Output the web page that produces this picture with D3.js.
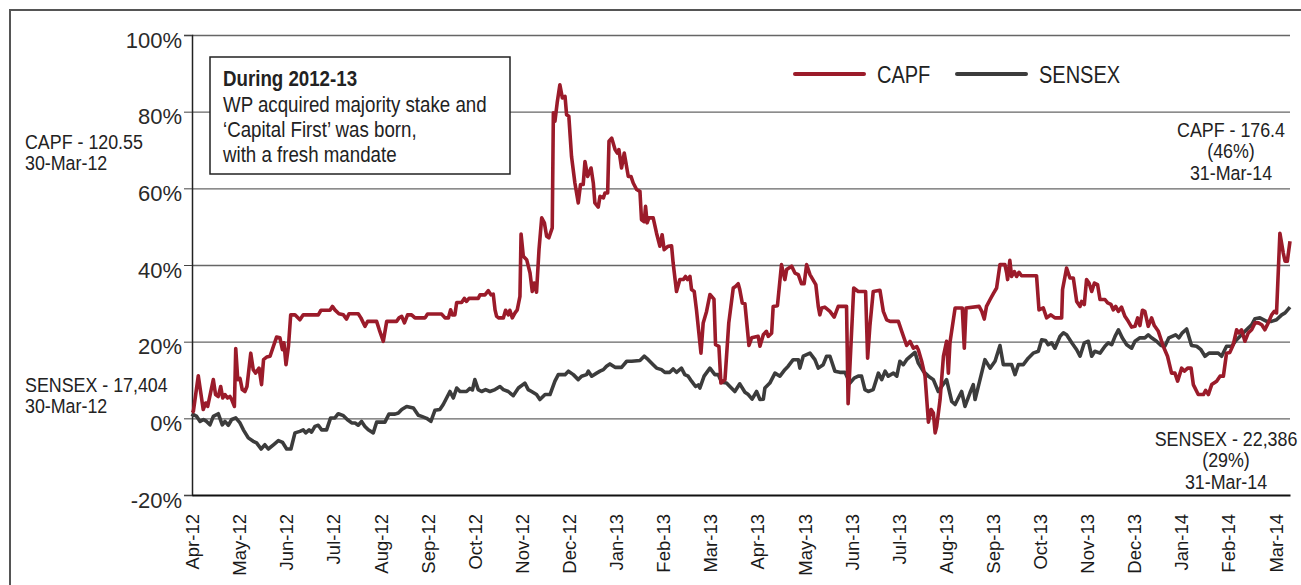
<!DOCTYPE html>
<html>
<head>
<meta charset="utf-8">
<script src="https://cdn.jsdelivr.net/npm/d3@7"></script>
<style>
  body { margin: 0; background: #fff; }
  svg { display: block; }
  .cond { font-family: "Liberation Sans", Arial, sans-serif; }
</style>
</head>
<body>
<script>
// month labels, one every 21 trading days from 30-Mar-12
var months = ["Apr-12","May-12","Jun-12","Jul-12","Aug-12","Sep-12","Oct-12","Nov-12","Dec-12","Jan-13","Feb-13","Mar-13",
	"Apr-13","May-13","Jun-13","Jul-13","Aug-13","Sep-13","Oct-13","Nov-13","Dec-13","Jan-14","Feb-14","Mar-14"];
var yTicks = [-20, 0, 20, 40, 60, 80, 100];

// [trading day, % change since 30-Mar-12]
var capf = [[0,1.5],[0.6,1.8],[2.8,11.1],[5.0,2.3],[6.1,4.0],[7.0,3.1],[9.5,10.1],[10.5,6.2],[11.7,5.7],[12.8,8.3],[13.7,5.3],[14.7,6.2],[15.8,5.3],[16.9,5.7],[17.7,4.9],[18.9,3.1],[19.5,18.2],[20.4,10.1],[21.4,10.4],[22.4,7.5],[23.6,7.0],[24.5,8.3],[26.2,17.0],[27.3,12.7],[28.4,11.8],[29.9,13.1],[31.0,8.8],[31.9,15.3],[33.3,16.0],[34.8,16.2],[36.3,18.8],[37.7,21.2],[39.2,21.0],[40.3,17.9],[41.0,19.7],[41.9,14.0],[43.0,18.8],[44.0,27.0],[45.9,27.0],[48.1,25.7],[49.6,27.0],[56.3,27.0],[57.5,28.2],[61.5,28.2],[62.6,29.2],[63.7,28.3],[65.5,27.3],[67.5,27.0],[68.9,25.9],[70.0,27.3],[74.1,27.3],[75.3,26.2],[77.1,24.0],[78.3,25.3],[82.3,25.3],[83.5,23.1],[85.3,20.1],[86.8,25.3],[91.2,25.3],[92.3,26.2],[93.5,26.6],[94.7,24.9],[96.1,27.0],[97.9,27.0],[99.4,26.2],
	[103.9,26.2],[105.0,27.2],[111.3,27.2],[112.8,26.2],[114.3,26.2],[115.3,28.3],[116.0,27.0],[117.2,27.0],[118.0,30.2],[120.2,30.2],[121.4,31.3],[122.4,30.5],[123.5,31.3],[127.6,31.3],[128.4,32.2],[130.6,32.2],[132.1,33.3],[133.3,32.2],[134.3,32.4],[135.1,28.3],[135.8,26.6],[136.8,26.2],[138.8,26.2],[139.8,28.2],[141.0,27.0],[141.7,28.2],[142.8,26.2],[144.0,27.5],[145.0,28.3],[146.2,31.8],[146.7,48.1],[147.7,42.3],[149.2,41.4],[150.7,37.9],[151.7,33.1],[152.6,35.3],[153.6,32.9],[154.7,44.0],[155.9,52.3],[157.1,51.0],[158.1,47.5],[159.1,47.1],[160.6,49.7],[161.1,79.7],[161.8,77.5],[162.8,82.3],[164.0,87.0],[165.1,83.6],[166.3,84.0],[167.0,79.2],[168.0,78.8],[169.2,68.3],[170.7,61.4],[172.2,56.2],[173.2,61.0],[174.4,61.0],[175.2,67.0],[176.4,63.1],[177.9,65.3],[178.9,61.4],[179.6,56.2],[181.1,55.1],[181.9,57.9],[183.4,57.5],[184.1,58.8],[185.3,58.8],[185.9,72.3],[187.1,73.1],[188.6,70.1],[189.6,69.2],[190.3,70.1],[191.5,65.3],[192.7,69.2],[194.5,63.1],[195.7,63.1],[196.7,61.4],[198.2,59.7],[199.7,59.2],[200.4,51.8],[201.6,51.3],
	[202.2,55.3],[202.9,51.0],[203.7,52.3],[205.6,52.3],[207.1,48.3],[208.6,44.9],[209.6,47.9],[210.5,44.0],[212.3,44.9],[213.8,45.0],[214.5,40.5],[216.0,33.1],[217.5,36.2],[219.0,36.2],[220.0,37.0],[220.9,36.2],[222.0,37.0],[222.7,33.6],[223.9,33.1],[224.9,28.3],[226.9,17.0],[227.9,24.9],[229.4,27.9],[230.9,32.3],[232.7,31.1],[233.4,19.2],[234.9,18.8],[235.8,9.2],[237.6,10.1],[239.3,24.9],[241.3,34.0],[242.3,34.4],[243.5,35.1],[244.2,33.6],[245.3,30.1],[246.5,29.9],[248.3,19.0],[249.5,21.0],[252.4,21.4],[253.2,18.8],[254.7,21.8],[256.1,22.7],[256.9,21.4],[258.4,22.2],[259.1,29.2],[261.0,29.4],[262.8,40.1],[264.3,36.2],[265.1,38.8],[267.3,39.7],[268.8,37.9],[270.3,37.5],[271.7,35.1],[272.9,35.1],[274.0,40.1],[275.5,37.5],[278.1,34.9],[279.2,29.2],[279.9,27.0],[280.7,28.8],[282.1,29.0],[284.4,27.9],[286.3,26.4],[288.1,29.2],[291.8,29.2],[292.5,3.8],[295.0,34.0],[297.0,33.1],[300.3,33.1],[301.2,15.7],[302.2,24.0],[303.7,33.1],[306.7,33.4],
	[308.2,27.9],[309.7,25.7],[311.2,25.3],[314.9,25.3],[316.4,22.7],[318.6,19.0],[320.1,20.1],[321.6,18.3],[323.1,18.7],[323.8,17.9],[325.3,14.9],[326.8,11.0],[328.3,-1.0],[329.5,2.3],[330.5,1.4],[331.3,-3.8],[332.0,-2.1],[333.5,4.9],[335.0,16.2],[336.4,20.1],[337.2,11.8],[337.9,19.7],[340.2,28.8],[343.4,28.8],[344.3,18.3],[345.1,28.8],[350.9,29.2],[352.1,27.9],[353.2,25.9],[354.2,29.2],[355.8,31.0],[357.3,32.6],[358.7,34.0],[360.2,40.1],[362.4,40.1],[363.2,37.9],[363.6,36.2],[364.6,41.2],[365.4,37.0],[366.6,38.3],[367.6,37.0],[368.7,38.1],[369.8,37.2],[376.5,37.2],[377.6,28.3],[379.5,28.8],[381.0,26.2],[382.9,27.0],[384.7,26.2],[387.7,26.2],[388.1,33.6],[389.9,39.2],[391.4,36.6],[392.9,36.6],[394.4,30.5],[395.9,29.2],[396.6,30.5],[397.8,29.7],
	[398.8,36.2],[399.9,35.3],[401.1,33.1],[402.3,35.3],[403.7,34.9],[404.8,31.0],[407.0,31.0],[408.2,30.1],[409.7,29.7],[410.7,28.3],[411.8,29.2],[413.0,27.9],[414.4,29.0],[415.9,26.6],[417.4,25.3],[418.9,23.8],[420.4,24.0],[421.6,26.2],[422.6,24.2],[423.7,28.2],[424.8,27.9],[426.3,24.0],[427.8,26.2],[429.0,24.2],[430.8,22.7],[433.0,18.8],[434.9,16.2],[436.7,11.8],[438.2,11.8],[439.4,9.7],[441.2,13.1],[442.4,12.3],[443.9,13.1],[445.4,13.1],[446.4,8.8],[448.6,6.2],[450.9,6.2],[451.9,7.3],[453.1,6.2],[454.6,8.8],[456.8,9.7],[458.3,11.0],[459.8,11.0],[461.2,17.0],[462.7,17.2],[464.2,19.2],[465.7,23.1],[466.7,22.3],[467.9,23.1],[469.4,20.1],[470.9,22.3],[472.4,23.1],[473.9,24.9],[475.4,24.9],[476.9,24.4],[478.3,23.1],[479.8,24.9],[481.3,27.0],[482.5,27.9],[483.5,27.5],[485.0,48.3],[486.5,43.1],[487.3,41.0],[488.3,41.0],[489.5,46.2]];

var sensex = [[0,0.5],[0.6,1.0],[2.1,0.5],[3.6,-0.8],[5.1,-0.3],[6.5,-0.8],[8.0,-1.7],[9.5,0.5],[11.7,1.2],[13.5,-1.7],[14.7,-0.8],[16.2,-1.8],[17.7,-0.3],[19.5,0.1],[21.4,-1.2],[22.9,-3.0],[25.1,-5.1],[27.3,-6.0],[28.8,-6.4],[30.8,-8.0],[32.5,-6.9],[34.0,-8.0],[36.3,-6.9],[38.5,-5.8],[40.4,-6.3],[42.2,-8.0],[44.1,-8.0],[45.9,-3.8],[48.1,-3.4],[49.6,-3.0],[50.7,-3.8],[52.2,-3.0],[53.3,-3.6],[54.8,-2.1],[56.3,-1.8],[57.8,-3.0],[60.0,-3.0],[61.8,0.1],[63.7,0.1],[65.2,1.2],[67.5,0.7],[69.2,-0.3],[71.2,-1.2],[72.7,-1.2],[74.1,-1.8],[75.6,-0.8],[77.1,-2.1],[78.6,-3.0],[80.8,-3.8],[82.3,-1.0],[86.0,-1.0],[87.8,1.1],[90.5,1.1],[92.0,1.4],[93.5,2.3],[95.7,3.1],[98.7,2.7],[100.9,0.8],
	[102.4,0.5],[104.6,0.0],[106.5,-0.8],[108.3,2.1],[110.5,2.3],[112.0,3.6],[115.0,7.0],[116.5,5.3],[118.0,7.9],[119.5,7.0],[122.4,7.0],[123.9,7.8],[125.0,7.4],[126.1,10.1],[127.6,7.5],[129.1,7.0],[130.9,7.5],[132.8,7.0],[135.1,7.5],[137.3,8.3],[138.8,7.5],[141.0,7.0],[143.2,5.9],[145.5,7.9],[148.4,9.2],[149.9,7.5],[151.4,7.0],[153.6,6.2],[155.1,4.9],[157.4,6.2],[159.6,6.2],[161.8,9.7],[163.3,11.4],[166.3,11.4],[167.8,12.3],[170.0,11.4],[172.2,10.1],[173.7,11.0],[175.9,11.4],[176.7,12.3],[178.2,11.0],[180.4,11.8],[181.9,12.3],[183.4,12.7],[184.8,13.6],[186.3,14.2],[188.6,13.3],[191.5,13.3],[193.8,14.9],[196.0,14.9],[199.7,15.1],[201.6,16.2],
	[203.4,15.3],[205.6,14.0],[207.1,13.1],[209.3,12.7],[210.8,12.0],[213.0,12.0],[214.5,12.9],[216.0,12.0],[218.2,13.1],[219.7,11.4],[221.2,11.0],[222.7,9.7],[224.5,8.3],[225.7,8.7],[226.4,7.9],[228.3,11.0],[230.9,13.1],[233.1,11.4],[234.6,11.4],[236.1,9.4],[238.3,9.2],[239.8,8.3],[242.0,7.0],[244.2,9.0],[246.5,6.8],[248.0,6.2],[249.7,5.0],[251.7,7.0],[253.2,4.9],[254.7,5.0],[255.4,7.9],[257.6,9.2],[259.9,11.8],[262.1,11.0],[264.3,12.7],[265.8,13.6],[268.0,15.3],[270.3,15.3],[271.0,13.1],[272.5,16.2],[275.5,17.0],[277.7,15.3],[279.2,13.1],[281.4,14.0],[282.9,16.2],[284.4,16.2],[286.6,12.3],[288.8,12.0],[291.1,12.0],[293.3,9.2],[295.2,10.5],[297.0,11.0],[298.5,11.0],[300.0,7.5],[301.5,7.0],[303.7,7.5],
	[306.0,11.8],[307.5,10.1],[309.0,12.3],[310.4,11.0],[312.7,11.8],[314.2,11.0],[315.6,14.9],[317.1,14.0],[318.6,15.3],[320.1,16.1],[322.3,17.2],[323.8,14.4],[326.0,12.3],[328.3,11.0],[330.5,10.1],[332.7,7.0],[334.2,8.3],[336.4,10.1],[338.7,4.4],[340.2,3.6],[341.3,4.9],[343.1,7.0],[344.6,3.1],[346.8,6.6],[348.3,8.8],[349.1,4.9],[351.3,10.1],[353.5,15.3],[355.8,13.1],[358.0,14.9],[360.2,19.0],[361.7,14.0],[365.4,14.0],[366.9,11.4],[368.4,14.0],[370.6,14.0],[372.8,15.7],[375.0,17.0],[377.3,17.5],[378.8,20.5],[380.5,20.3],[381.7,19.2],[383.2,19.7],[384.7,18.3],[387.0,21.4],[388.5,22.3],[389.9,21.8],[392.2,19.7],[394.4,17.9],[395.9,16.2],[397.8,19.7],
	[399.6,20.1],[401.1,16.2],[402.5,17.5],[404.8,17.0],[407.0,18.8],[408.5,19.7],[410.0,19.2],[411.5,21.4],[413.0,23.1],[414.7,21.0],[416.7,19.2],[418.9,18.3],[420.4,20.1],[422.6,21.0],[424.8,21.0],[426.3,21.8],[427.8,21.0],[430.0,20.1],[432.0,19.0],[433.7,18.8],[435.5,21.0],[437.0,21.4],[438.5,21.8],[440.0,21.0],[441.5,22.3],[443.4,23.3],[445.6,19.0],[447.9,18.8],[449.8,17.9],[451.6,16.2],[453.4,17.0],[457.5,17.0],[459.0,16.2],[461.2,18.8],[463.5,18.8],[465.7,20.5],[467.9,21.8],[470.1,23.1],[472.4,24.4],[473.9,26.0],[476.1,26.2],[479.1,25.3],[481.3,25.3],[483.5,25.7],[485.8,27.0],[487.3,27.5],[489.5,29.0]];

var boxTitle = "During 2012-13";
var boxLines = ["WP acquired majority stake and", "\u2018Capital First\u2019 was born,", "with a fresh mandate"];
var capfStart = ["CAPF - 120.55", "30-Mar-12"];
var sensexStart = ["SENSEX - 17,404", "30-Mar-12"];
var capfEnd = ["CAPF - 176.4", "(46%)", "31-Mar-14"];
var sensexEnd = ["SENSEX - 22,386", "(29%)", "31-Mar-14"];

var W = 1301, H = 585;
var margin = {top: 35, right: 11, bottom: 90, left: 192};
var width = W - margin.left - margin.right;
var height = H - margin.top - margin.bottom;
var squeeze = 0.87; // the source uses a condensed face

var svg = d3.select("body").append("svg")
	.attr("width", W)
	.attr("height", H);

// outer frame (left + top)
svg.append("path")
	.attr("d", "M10," + H + "V10H" + W)
	.attr("fill", "none")
	.attr("stroke", "#555")
	.attr("stroke-width", 2);

var g = svg.append("g")
	.attr("transform", "translate(" + margin.left + "," + margin.top + ")");

var x = d3.scaleLinear().domain([0, 489.5]).range([0, width]);
var y = d3.scaleLinear().domain([-20, 100]).range([height, 0]);

// gridlines
g.append("g")
	.attr("class", "grid")
	.call(d3.axisLeft(y).tickValues(yTicks.slice(1)).tickSize(-width).tickFormat(""))
	.call(s => s.select(".domain").remove())
	.selectAll("line")
	.attr("stroke", "#666")
	.attr("stroke-width", 1.3);

// y axis
var yAxis = g.append("g")
	.call(d3.axisLeft(y).tickValues(yTicks).tickSize(8).tickPadding(2).tickFormat(d => d + "%"));
yAxis.select(".domain").attr("stroke", "#222").attr("stroke-width", 1.5);
yAxis.selectAll("line").attr("stroke", "#444");
yAxis.selectAll("text")
	.attr("font-family", "Liberation Sans, Arial, sans-serif")
	.attr("font-size", "22px")
	.attr("fill", "#2a2a2a")
	.attr("dy", "0.55em");

// x axis
var xAxis = g.append("g")
	.attr("transform", "translate(0," + height + ")")
	.call(d3.axisBottom(x).tickValues(months.map((m, i) => i * 21)).tickSize(0).tickFormat((d, i) => months[i]));
xAxis.select(".domain").attr("stroke", "#111").attr("stroke-width", 2);
xAxis.selectAll("text")
	.attr("font-family", "Liberation Sans, Arial, sans-serif")
	.attr("font-size", "18.5px")
	.attr("fill", "#1a1a1a")
	.attr("text-anchor", "end")
	.attr("transform", "rotate(-90)")
	.attr("x", -19)
	.attr("y", 0)
	.attr("dy", "0.36em");

var line = d3.line()
	.x(d => x(d[0]))
	.y(d => y(d[1]));

g.append("path")
	.datum(sensex)
	.attr("fill", "none")
	.attr("stroke", "#3c3c3c")
	.attr("stroke-width", 3.6)
	.attr("stroke-linejoin", "round")
	.attr("d", line);

g.append("path")
	.datum(capf)
	.attr("fill", "none")
	.attr("stroke", "#9b1b2a")
	.attr("stroke-width", 3.6)
	.attr("stroke-linejoin", "round")
	.attr("d", line);

// condensed text block helper
function block(lines, xPos, y0, lh, size, anchor) {
	var t = svg.append("g")
		.attr("transform", "translate(" + xPos + "," + y0 + ") scale(" + squeeze + ",1)")
		.append("text")
		.attr("class", "cond")
		.attr("font-size", size + "px")
		.attr("fill", "#222")
		.attr("text-anchor", anchor);
	lines.forEach((s, i) => {
		t.append("tspan").attr("x", 0).attr("y", i * lh).text(s);
	});
	return t;
}

// note box
svg.append("rect")
	.attr("x", 210).attr("y", 57)
	.attr("width", 300).attr("height", 117)
	.attr("fill", "#fff")
	.attr("stroke", "#222")
	.attr("stroke-width", 1.5);
block([boxTitle], 223, 86, 0, 21.5, "start").attr("font-weight", "bold");
block(boxLines, 223, 111.5, 25.5, 21.5, "start");

// legend
var legend = [["CAPF", "#9b1b2a", 795], ["SENSEX", "#3c3c3c", 957]];
legend.forEach(l => {
	svg.append("line")
		.attr("x1", l[2]).attr("x2", l[2] + 69)
		.attr("y1", 74).attr("y2", 74)
		.attr("stroke", l[1])
		.attr("stroke-width", 4)
		.attr("stroke-linecap", "round");
	block([l[0]], l[2] + 82, 82.5, 0, 23, "start");
});

// value labels
block(capfStart, 25, 149, 21.5, 20.5, "start");
block(sensexStart, 25, 392, 21.5, 20.5, "start");
block(capfEnd, 1231, 137, 21.5, 20.5, "middle");
block(sensexEnd, 1226, 446, 21.5, 20.5, "middle");
</script>
</body>
</html>
